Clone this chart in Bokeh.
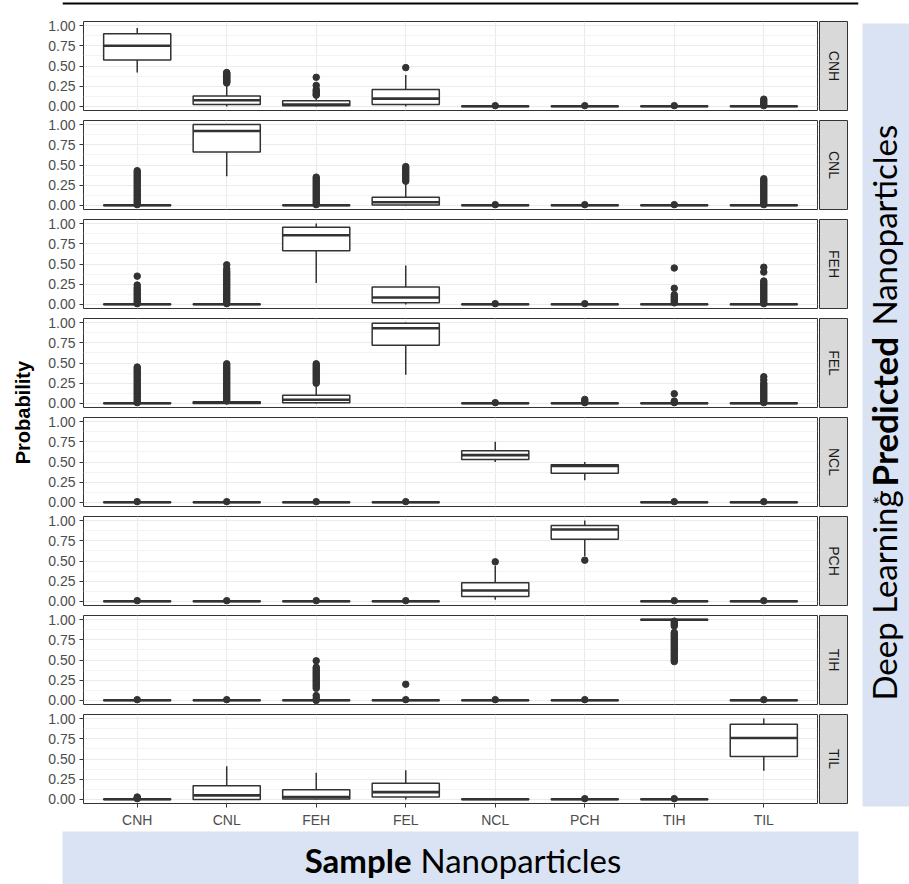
import math
from bokeh.plotting import figure
from bokeh.layouts import column, row
from bokeh.models import Range1d, FixedTicker, PrintfTickFormatter, ColumnDataSource, Span, Label
from bokeh.transform import dodge
from bokeh.embed import file_html
from bokeh.resources import INLINE

# ---------------- data ----------------
categories = ["CNH", "CNL", "FEH", "FEL", "NCL", "PCH", "TIH", "TIL"]   # sample nanoparticles (x)
predicted = ["CNH", "CNL", "FEH", "FEL", "NCL", "PCH", "TIH", "TIL"]    # predicted class (facet rows)
y_ticks = [0.0, 0.25, 0.5, 0.75, 1.0]
y_minor = [0.125, 0.375, 0.625, 0.875]

# box statistics, one row per predicted facet, one column per sample category
whisker_low = [
    [0.42, 0.00, 0.00, 0.00, 0.00, 0.00, 0.00, 0.00],
    [0.00, 0.36, 0.00, 0.00, 0.00, 0.00, 0.00, 0.00],
    [0.00, 0.00, 0.265, 0.00, 0.00, 0.00, 0.00, 0.00],
    [0.00, 0.00, 0.00, 0.355, 0.00, 0.00, 0.00, 0.00],
    [0.00, 0.00, 0.00, 0.00, 0.50, 0.275, 0.00, 0.00],
    [0.00, 0.00, 0.00, 0.00, 0.02, 0.56, 0.00, 0.00],
    [0.00, 0.00, 0.00, 0.00, 0.00, 0.00, 0.99, 0.00],
    [0.00, 0.00, 0.00, 0.00, 0.00, 0.00, 0.00, 0.355],
]
box_q1 = [
    [0.575, 0.024, 0.008, 0.024, 0.00, 0.00, 0.00, 0.00],
    [0.00, 0.66, 0.00, 0.005, 0.00, 0.00, 0.00, 0.00],
    [0.00, 0.00, 0.665, 0.02, 0.00, 0.00, 0.00, 0.00],
    [0.00, 0.00, 0.01, 0.72, 0.00, 0.00, 0.00, 0.00],
    [0.00, 0.00, 0.00, 0.00, 0.53, 0.36, 0.00, 0.00],
    [0.00, 0.00, 0.00, 0.00, 0.06, 0.77, 0.00, 0.00],
    [0.00, 0.00, 0.00, 0.00, 0.00, 0.00, 0.994, 0.00],
    [0.00, 0.00, 0.005, 0.03, 0.00, 0.00, 0.00, 0.53],
]
box_median = [
    [0.75, 0.077, 0.024, 0.097, 0.002, 0.002, 0.002, 0.002],
    [0.002, 0.92, 0.002, 0.04, 0.002, 0.002, 0.002, 0.002],
    [0.002, 0.002, 0.855, 0.086, 0.002, 0.002, 0.002, 0.002],
    [0.002, 0.008, 0.045, 0.93, 0.002, 0.002, 0.002, 0.002],
    [0.002, 0.002, 0.002, 0.002, 0.585, 0.45, 0.002, 0.002],
    [0.002, 0.002, 0.002, 0.002, 0.135, 0.89, 0.002, 0.002],
    [0.002, 0.002, 0.002, 0.002, 0.002, 0.002, 0.998, 0.002],
    [0.002, 0.05, 0.03, 0.09, 0.002, 0.002, 0.002, 0.76],
]
box_q3 = [
    [0.90, 0.13, 0.069, 0.21, 0.006, 0.006, 0.006, 0.006],
    [0.006, 1.00, 0.006, 0.10, 0.006, 0.006, 0.006, 0.006],
    [0.006, 0.006, 0.955, 0.216, 0.006, 0.006, 0.006, 0.006],
    [0.006, 0.02, 0.10, 0.99, 0.006, 0.006, 0.006, 0.006],
    [0.006, 0.006, 0.006, 0.006, 0.64, 0.465, 0.006, 0.006],
    [0.006, 0.006, 0.006, 0.006, 0.23, 0.94, 0.006, 0.006],
    [0.006, 0.006, 0.006, 0.006, 0.006, 0.006, 1.00, 0.006],
    [0.006, 0.17, 0.12, 0.20, 0.006, 0.006, 0.006, 0.93],
]
whisker_high = [
    [0.97, 0.27, 0.12, 0.39, 0.01, 0.01, 0.01, 0.01],
    [0.01, 1.00, 0.01, 0.28, 0.01, 0.01, 0.01, 0.01],
    [0.01, 0.01, 1.00, 0.48, 0.01, 0.01, 0.01, 0.01],
    [0.01, 0.03, 0.24, 1.00, 0.01, 0.01, 0.01, 0.01],
    [0.01, 0.01, 0.01, 0.01, 0.75, 0.50, 0.01, 0.01],
    [0.01, 0.01, 0.01, 0.01, 0.44, 1.00, 0.01, 0.01],
    [0.01, 0.01, 0.01, 0.01, 0.01, 0.01, 1.00, 0.01],
    [0.01, 0.41, 0.33, 0.36, 0.01, 0.01, 0.01, 1.00],
]

# outliers per facet (one list per sample category)
outliers_CNH = [
    [],
    [0.29, 0.30, 0.31, 0.32, 0.33, 0.34, 0.35, 0.36, 0.37, 0.38, 0.39, 0.40, 0.41, 0.42],
    [0.14, 0.15, 0.17, 0.19, 0.21, 0.26, 0.36],
    [0.48],
    [0.01], [0.01], [0.01],
    [0.01, 0.03, 0.05, 0.07, 0.09],
]
outliers_CNL = [
    [0.01, 0.03, 0.05, 0.07, 0.09, 0.11, 0.13, 0.15, 0.17, 0.19, 0.21, 0.23, 0.25,
     0.27, 0.29, 0.31, 0.33, 0.35, 0.37, 0.39, 0.41, 0.43],
    [],
    [0.01, 0.03, 0.05, 0.07, 0.09, 0.11, 0.13, 0.15, 0.17, 0.19, 0.21, 0.23, 0.25,
     0.27, 0.29, 0.31, 0.33, 0.35],
    [0.30, 0.32, 0.34, 0.36, 0.38, 0.40, 0.42, 0.44, 0.46, 0.48],
    [0.01], [0.01], [0.01],
    [0.01, 0.03, 0.05, 0.07, 0.09, 0.11, 0.13, 0.15, 0.17, 0.19, 0.21, 0.23, 0.25,
     0.27, 0.29, 0.31, 0.33],
]
outliers_FEH = [
    [0.01, 0.03, 0.05, 0.07, 0.09, 0.11, 0.13, 0.15, 0.17, 0.19, 0.21, 0.24, 0.35],
    [0.01, 0.03, 0.05, 0.07, 0.09, 0.11, 0.13, 0.15, 0.17, 0.19, 0.21, 0.23, 0.25,
     0.27, 0.29, 0.31, 0.33, 0.35, 0.37, 0.39, 0.41, 0.44, 0.49],
    [],
    [],
    [0.01], [0.01],
    [0.02, 0.04, 0.06, 0.08, 0.10, 0.12, 0.20, 0.45],
    [0.01, 0.03, 0.05, 0.07, 0.09, 0.11, 0.13, 0.15, 0.17, 0.19, 0.21, 0.23, 0.25,
     0.27, 0.29, 0.40, 0.46],
]
outliers_FEL = [
    [0.01, 0.03, 0.05, 0.07, 0.09, 0.11, 0.13, 0.15, 0.17, 0.19, 0.21, 0.23, 0.25,
     0.27, 0.29, 0.31, 0.33, 0.35, 0.37, 0.39, 0.41, 0.43, 0.45],
    [0.03, 0.05, 0.07, 0.09, 0.11, 0.13, 0.15, 0.17, 0.19, 0.21, 0.23, 0.25, 0.27,
     0.29, 0.31, 0.33, 0.35, 0.37, 0.39, 0.41, 0.43, 0.45, 0.47, 0.49],
    [0.25, 0.27, 0.29, 0.31, 0.33, 0.35, 0.37, 0.39, 0.41, 0.43, 0.45, 0.47, 0.49],
    [],
    [0.01],
    [0.01, 0.03, 0.05],
    [0.01, 0.03, 0.12],
    [0.01, 0.03, 0.05, 0.07, 0.09, 0.11, 0.13, 0.15, 0.17, 0.19, 0.21, 0.23, 0.25,
     0.29, 0.33],
]
outliers_NCL = [[0.01], [0.01], [0.01], [0.01], [], [], [0.01], [0.01]]
outliers_PCH = [[0.01], [0.01], [0.01], [0.01], [0.49], [0.51], [0.01], [0.01]]
outliers_TIH = [
    [0.01], [0.01],
    [0.00, 0.03, 0.06, 0.15, 0.17, 0.19, 0.21, 0.23, 0.25, 0.27, 0.29, 0.31, 0.33,
     0.35, 0.37, 0.39, 0.41, 0.49],
    [0.01, 0.20],
    [0.01], [0.01],
    [0.48, 0.50, 0.52, 0.54, 0.56, 0.58, 0.60, 0.62, 0.64, 0.66, 0.68, 0.70, 0.72,
     0.74, 0.76, 0.78, 0.80, 0.82, 0.84, 0.92, 0.94, 0.96, 0.98],
    [0.01],
]
outliers_TIL = [[0.01, 0.02, 0.03], [], [], [], [], [0.01], [0.01], []]

outliers = [outliers_CNH, outliers_CNL, outliers_FEH, outliers_FEL,
            outliers_NCL, outliers_PCH, outliers_TIH, outliers_TIL]

# ---------------- styling ----------------
INK = "#333333"
BLUE = "#DAE3F3"
GRID = "#EBEBEB"
GRID_MINOR = "#F3F3F3"
AXIS_TXT = "#4D4D4D"
SANS = "Liberation Sans"
TITLE_FONT = "Lato"

PANEL_W = 778
STRIP_W = 30
PANEL_H = 99
LAST_H = 122


def panel_fig(k, last):
    xs = list(range(1, len(categories) + 1))
    p = figure(width=PANEL_W, height=LAST_H if last else PANEL_H,
               x_range=Range1d(0.4, len(categories) + 0.6), y_range=Range1d(-0.05, 1.05),
               x_axis_location="below" if last else None, y_axis_location="left",
               output_backend="svg", toolbar_location=None,
               min_border_left=43, min_border_right=1, min_border_top=5,
               min_border_bottom=28 if last else 5)
    p.outline_line_color = INK
    p.outline_line_width = 1
    p.background_fill_color = "white"
    p.border_fill_color = "white"

    p.xgrid.ticker = FixedTicker(ticks=xs)
    p.ygrid.ticker = FixedTicker(ticks=y_ticks, minor_ticks=y_minor)
    p.xgrid.grid_line_color = GRID
    p.ygrid.grid_line_color = GRID
    p.ygrid.minor_grid_line_color = GRID_MINOR
    p.xgrid.grid_line_width = 1
    p.ygrid.grid_line_width = 1

    ya = p.yaxis[0]
    ya.ticker = FixedTicker(ticks=y_ticks)
    ya.formatter = PrintfTickFormatter(format="%.2f")
    ya.axis_line_color = None
    ya.major_tick_in = 0
    ya.major_tick_out = 4
    ya.minor_tick_in = 0
    ya.minor_tick_out = 0
    ya.major_tick_line_color = INK
    ya.major_label_text_font = SANS
    ya.major_label_text_font_size = "14px"
    ya.major_label_text_color = AXIS_TXT
    ya.major_label_standoff = 4

    if last:
        xa = p.xaxis[0]
        xa.ticker = FixedTicker(ticks=xs)
        xa.major_label_overrides = {x: c for x, c in zip(xs, categories)}
        xa.axis_line_color = None
        xa.major_tick_in = 0
        xa.major_tick_out = 4
        xa.minor_tick_in = 0
        xa.minor_tick_out = 0
        xa.major_tick_line_color = INK
        xa.major_label_text_font = SANS
        xa.major_label_text_font_size = "14px"
        xa.major_label_text_color = AXIS_TXT
        xa.major_label_standoff = 4

    src = ColumnDataSource(dict(x=xs, lo=whisker_low[k], q1=box_q1[k], med=box_median[k],
                                q3=box_q3[k], hi=whisker_high[k]))
    ox, oy = [], []
    for j, vals in enumerate(outliers[k]):
        for v in vals:
            ox.append(xs[j])
            oy.append(v)
    osrc = ColumnDataSource(dict(x=ox, y=oy))

    p.scatter("x", "y", source=osrc, size=6.5, fill_color=INK, line_color=INK)
    p.segment(x0="x", y0="lo", x1="x", y1="q1", source=src, line_color=INK, line_width=1.5)
    p.segment(x0="x", y0="q3", x1="x", y1="hi", source=src, line_color=INK, line_width=1.5)
    p.vbar(x="x", width=0.75, bottom="q1", top="q3", source=src,
           fill_color="white", line_color=INK, line_width=1.5)
    p.segment(x0=dodge("x", -0.375), y0="med", x1=dodge("x", 0.375), y1="med",
              source=src, line_color=INK, line_width=2.6)
    return p


def strip_fig(k, last):
    p = figure(width=STRIP_W, height=LAST_H if last else PANEL_H,
               x_range=Range1d(0, 1), y_range=Range1d(0, 1),
               x_axis_location=None, y_axis_location=None,
               output_backend="svg", toolbar_location=None,
               min_border_left=1, min_border_right=1, min_border_top=5,
               min_border_bottom=28 if last else 5)
    p.grid.visible = False
    p.background_fill_color = "#D9D9D9"
    p.border_fill_color = "white"
    p.outline_line_color = INK
    p.outline_line_width = 1
    p.add_layout(Label(x=0.5, y=0.5, text=predicted[k], angle=-math.pi / 2,
                       text_align="center", text_baseline="middle",
                       text_font=SANS, text_font_size="14px", text_color="#1A1A1A"))
    return p


panels = [panel_fig(k, k == len(predicted) - 1) for k in range(len(predicted))]
strips = [strip_fig(k, k == len(predicted) - 1) for k in range(len(predicted))]
MID_H = PANEL_H * 7 + LAST_H

# y axis title
ytitle = figure(width=40, height=MID_H, x_range=Range1d(0, 40), y_range=Range1d(0, MID_H),
                x_axis_location=None, y_axis_location=None, output_backend="svg",
                toolbar_location=None, min_border=0)
ytitle.grid.visible = False
ytitle.outline_line_color = None
ytitle.add_layout(Label(x=22, y=410, text="Probability", angle=math.pi / 2,
                        text_align="center", text_baseline="middle",
                        text_font=SANS, text_font_style="bold", text_font_size="20px",
                        text_color="black"))

# right-hand blue title box
right = figure(width=61, height=MID_H, x_range=Range1d(0, 47), y_range=Range1d(0, 783),
               x_axis_location=None, y_axis_location=None, output_backend="svg",
               toolbar_location=None, min_border_left=14, min_border_right=0,
               min_border_top=7, min_border_bottom=25)
right.grid.visible = False
right.outline_line_color = None
right.background_fill_color = BLUE
right.border_fill_color = "white"
rt = dict(angle=math.pi / 2, text_align="left", text_baseline="alphabetic",
          text_font=TITLE_FONT, text_color="black")
right.add_layout(Label(x=21, y=106, text="Deep Learning", text_font_size="33px", **rt))
right.add_layout(Label(x=16, y=302, text="*", text_font_size="20px", **rt))
right.add_layout(Label(x=21, y=320, text="Predicted", text_font_size="35px",
                       text_font_style="bold", **rt))
right.add_layout(Label(x=21, y=481, text="Nanoparticles", text_font_size="33px", **rt))

# bottom blue title box
bottom = figure(width=909, height=53, x_range=Range1d(0, 796), y_range=Range1d(0, 53),
                x_axis_location=None, y_axis_location=None, output_backend="svg",
                toolbar_location=None, min_border_left=62, min_border_right=51,
                min_border_top=0, min_border_bottom=0)
bottom.grid.visible = False
bottom.outline_line_color = None
bottom.background_fill_color = BLUE
bottom.border_fill_color = "white"
bottom.add_layout(Label(x=349, y=25, text="Sample", text_align="right",
                        text_baseline="alphabetic", text_font=TITLE_FONT,
                        text_font_style="bold", text_font_size="33px", text_color="black"))
bottom.add_layout(Label(x=358, y=25, text="Nanoparticles", text_align="left",
                        text_baseline="alphabetic", text_font=TITLE_FONT,
                        text_font_size="33px", text_color="black"))

# top rule
top = figure(width=909, height=16, x_range=Range1d(0, 1), y_range=Range1d(0, 16),
             x_axis_location=None, y_axis_location=None, output_backend="svg",
             toolbar_location=None, min_border=0)
top.grid.visible = False
top.outline_line_color = None
top.add_layout(Span(location=13, dimension="width", line_color="black", line_width=2))

layout = column(top,
                row(ytitle, column(*panels), column(*strips), right),
                bottom)

open("out.html", "w").write(file_html(layout, INLINE))
